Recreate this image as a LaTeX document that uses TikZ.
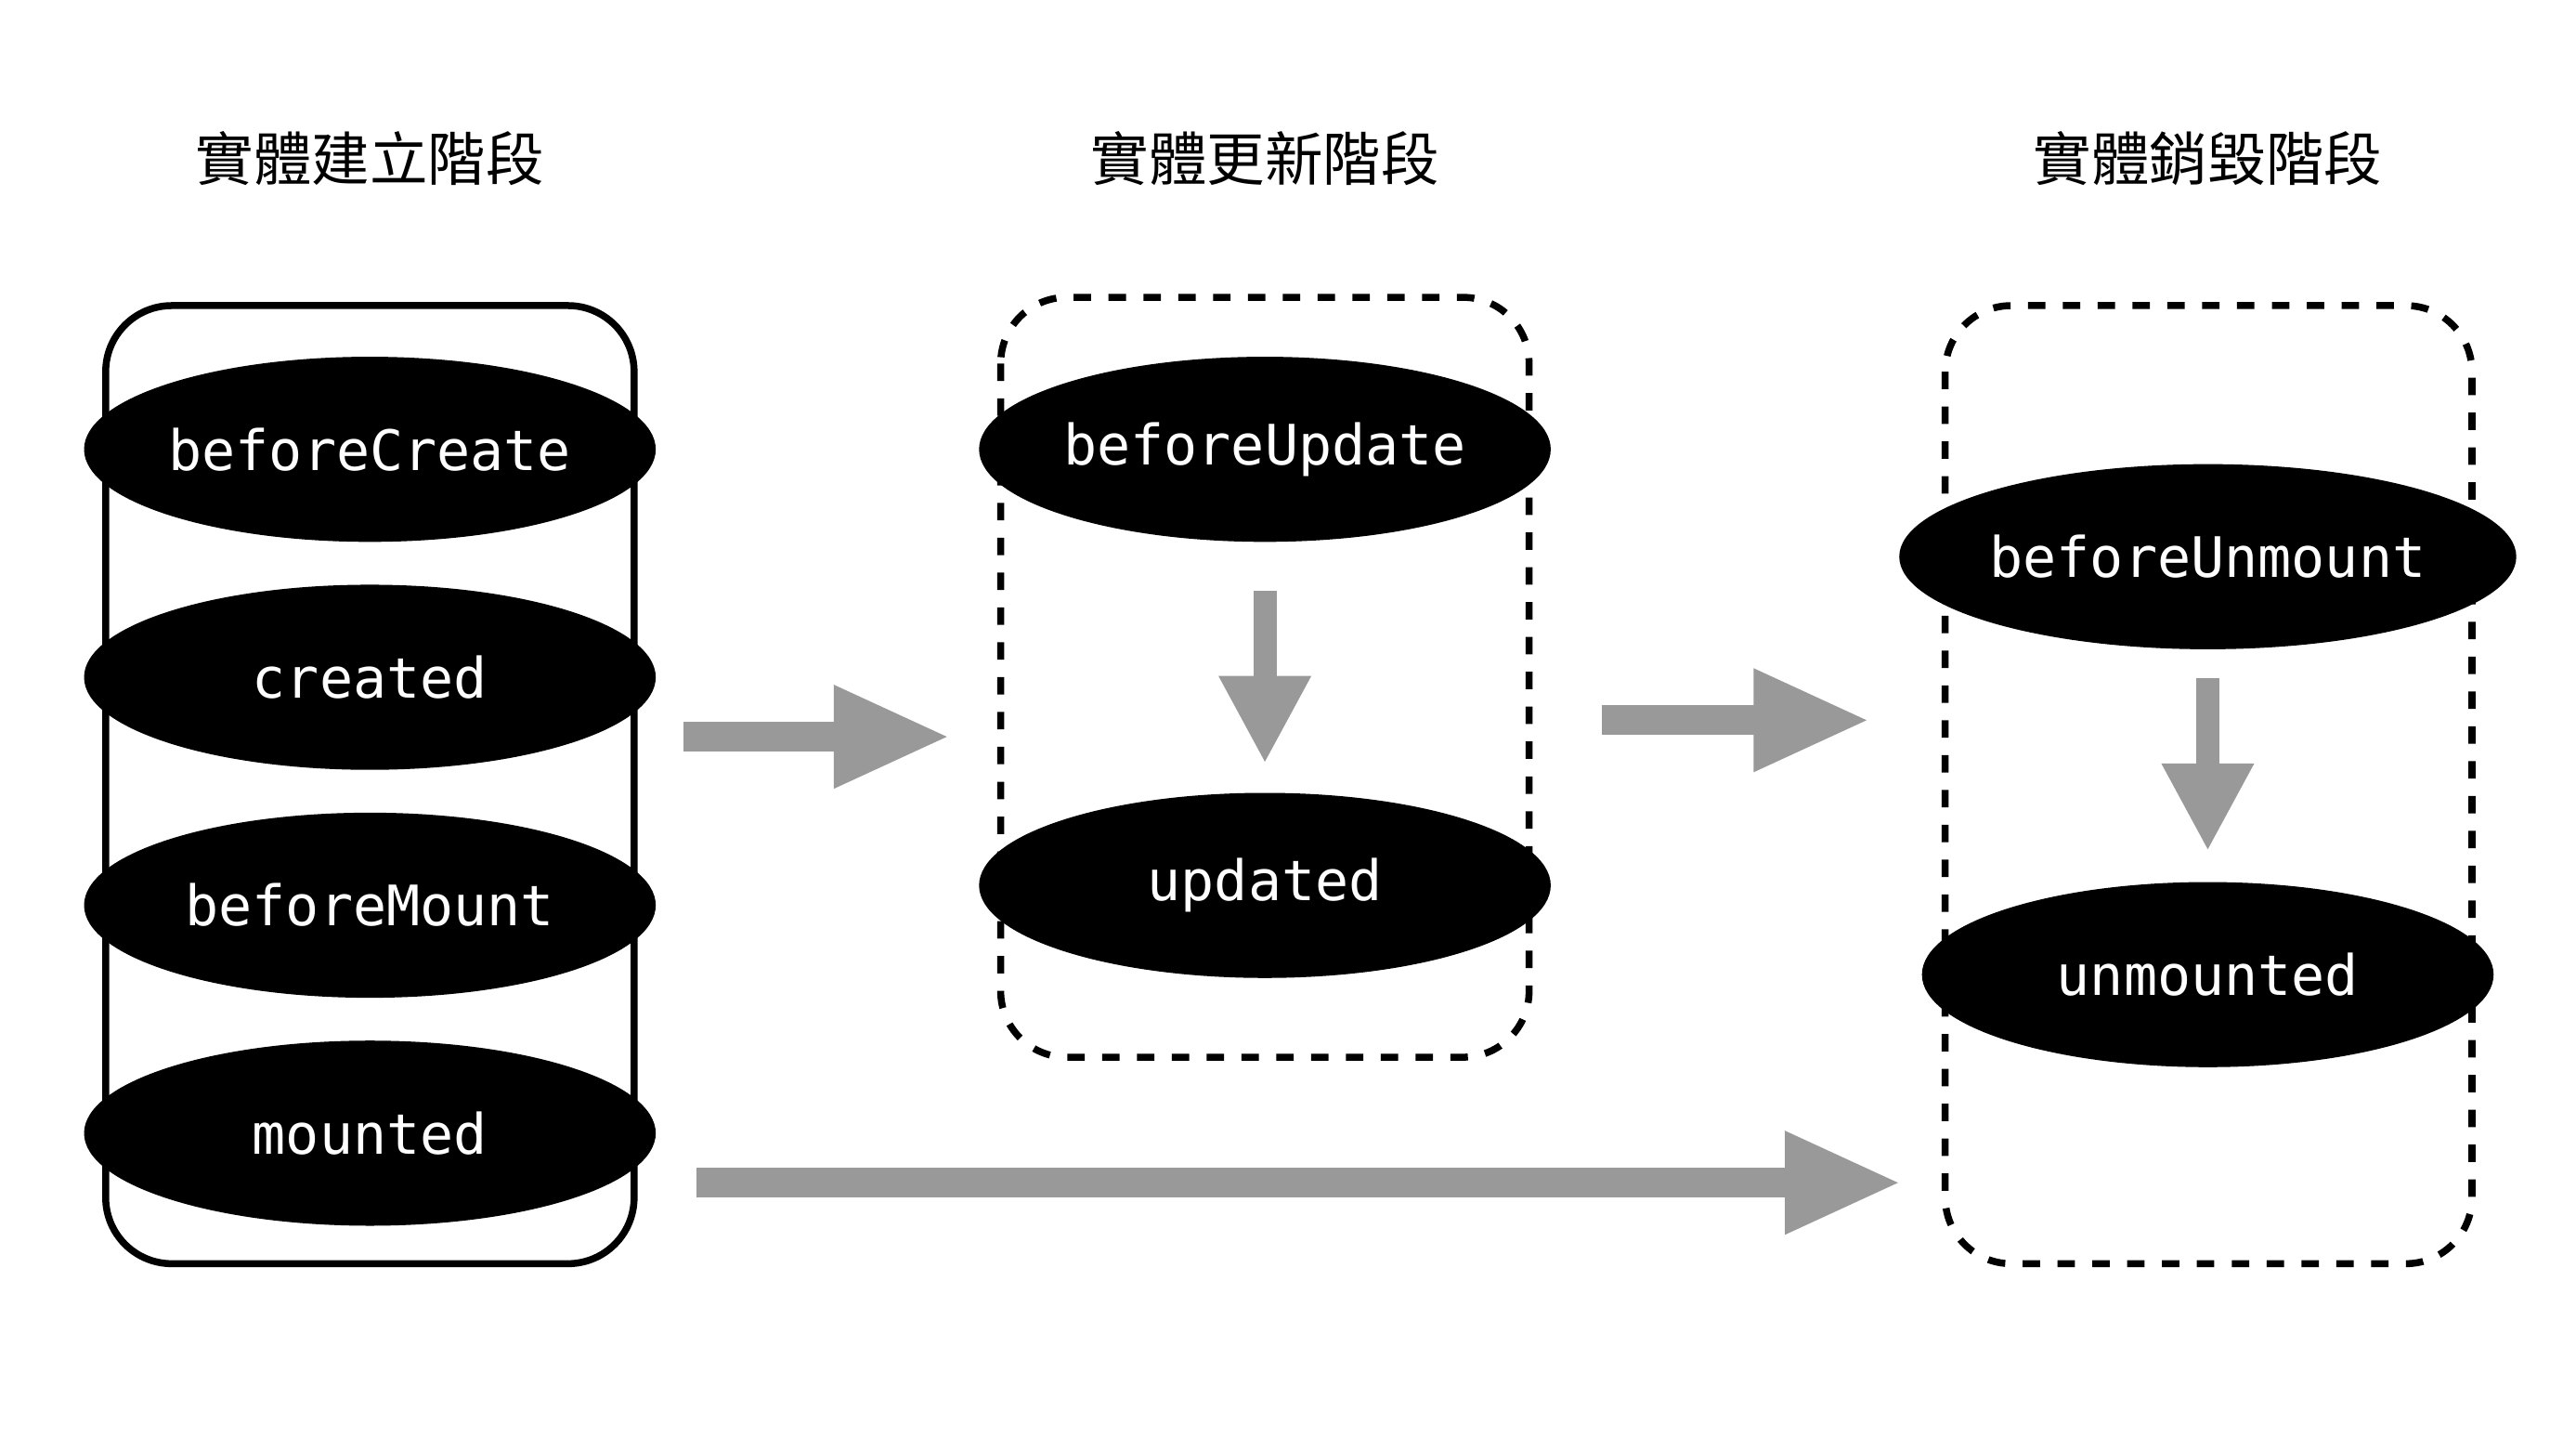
\documentclass[tikz,border=0pt]{standalone}
\usepackage{fontspec}
\setmonofont{DejaVu Sans Mono}
\newfontfamily\cjk{Noto Sans CJK TC}
\usetikzlibrary{shapes.geometric,arrows.meta,positioning}
\definecolor{arrowgray}{HTML}{999999}
\begin{document}
\begin{tikzpicture}[x=0.01cm,y=-0.01cm]
  \tikzstyle{hook} = [ellipse, fill=black, text=white, minimum width=3.46cm, minimum height=1.12cm, inner sep=0pt, font=\fontsize{9.6}{11}\selectfont\ttfamily]
  \tikzstyle{phase} = [rounded corners=0.4cm, line width=1.2pt]
  \tikzstyle{title} = [font=\fontsize{10}{12}\selectfont\cjk]
  \tikzstyle{arrow} = [arrowgray, line width=0.18cm, -{Triangle[length=0.71cm,width=0.57cm]}]
  \tikzstyle{down} = [arrowgray, line width=0.14cm, -{Triangle[length=0.53cm,width=0.52cm]}]
  \useasboundingbox (0,0) rectangle (1560,878);

  % phase boxes
  \draw [phase] (64,185) rectangle (384,765);
  \draw [phase, dashed] (606,180) rectangle (926,640);
  \draw [phase, dashed] (1178,185) rectangle (1497,765);

  % titles
  \node[title] (t1) at (224,96) {實體建立階段};
  \node[title] (t2) at (766,96) {實體更新階段};
  \node[title] (t3) at (1337,96) {實體銷毀階段};

  % hooks
  \node[hook] (bc) at (224,272) {beforeCreate};
  \node[hook] (cr) at (224,410) {created};
  \node[hook] (bm) at (224,548) {beforeMount};
  \node[hook] (mo) at (224,686) {mounted};
  \node[hook] (bu) at (766,272) {beforeUpdate};
  \node[hook] (up) at (766,536) {updated};
  \node[hook] (bum) at (1337,337) {beforeUnmount};
  \node[hook] (um) at (1337,590) {unmounted};

  % arrows
  \coordinate (a1s) at (414,446);
  \coordinate (a1e) at (576,446);
  \coordinate (a2s) at (970,436);
  \coordinate (a2e) at (1133,436);
  \coordinate (a3s) at (422,716);
  \coordinate (a3e) at (1152,716);
  \draw [arrow] (a1s) -- (a1e);
  \draw [arrow] (a2s) -- (a2e);
  \draw [arrow] (a3s) -- (a3e);
  \draw [down] ([yshift=-0.29cm]bu.south) -- ([yshift=0.17cm]up.north);
  \draw [down] ([yshift=-0.17cm]bum.south) -- ([yshift=0.18cm]um.north);
\end{tikzpicture}
\end{document}
